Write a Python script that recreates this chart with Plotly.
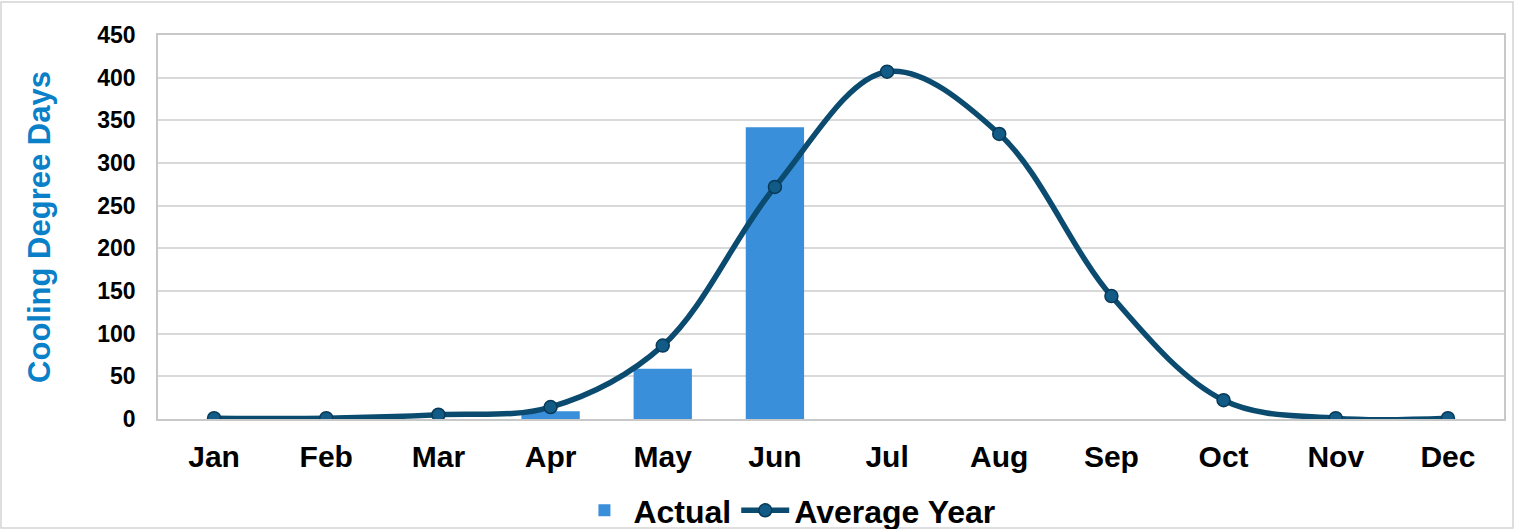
import plotly.graph_objects as go

months = ["Jan", "Feb", "Mar", "Apr", "May", "Jun", "Jul", "Aug", "Sep", "Oct", "Nov", "Dec"]
actual = [0, 0, 0, 9, 59, 342, None, None, None, None, None, None]
average_year = [1, 1, 5, 14, 86, 272, 407, 334, 144, 22, 1, 1]
y_ticks = [0, 50, 100, 150, 200, 250, 300, 350, 400, 450]

FONT = "Liberation Sans, Arial, sans-serif"

fig = go.Figure()

fig.add_trace(go.Bar(
    x=months, y=actual, name="Actual",
    width=0.52,
    marker=dict(color="#3a8fda", line=dict(width=0)),
))

fig.add_trace(go.Scatter(
    x=months, y=average_year, name="Average Year",
    mode="lines+markers",
    line=dict(color="#0a4b6f", width=5.5, shape="spline", smoothing=1.0),
    marker=dict(size=13, color="#115b86", line=dict(color="#083a58", width=1.5)),
))

# light frame around the whole chart
L, R, T, B = 158, 13, 35, 110
pw, ph = 1517 - L - R, 529 - T - B
fig.add_shape(
    type="rect", xref="paper", yref="paper",
    x0=(1 - L) / pw, x1=(1513 - L) / pw,
    y0=(419 - 528) / ph, y1=(419 - 2) / ph,
    line=dict(color="#d4d4d4", width=1.5), layer="below",
)

fig.update_layout(
    width=1517, height=529,
    margin=dict(l=L, r=R, t=T, b=B, autoexpand=False),
    paper_bgcolor="white", plot_bgcolor="white",
    font=dict(family=FONT, color="black"),
    showlegend=True,
    legend=dict(
        orientation="h", x=0.468, xanchor="center",
        yref="container", y=0.035, yanchor="middle",
        bgcolor="rgba(0,0,0,0)",
        font=dict(size=32, family=FONT, color="black", weight="bold"),
        itemwidth=48, traceorder="normal",
    ),
)

fig.update_xaxes(
    categoryorder="array", categoryarray=months, range=[-0.5, 11.5],
    showgrid=False, showline=True, linecolor="#c8c8c8", linewidth=1.5, mirror=True,
    ticks="outside", ticklen=10, tickcolor="rgba(0,0,0,0)",
    tickfont=dict(size=30, family=FONT, color="black", weight="bold"),
)

fig.update_yaxes(
    range=[0, 450], tickvals=y_ticks,
    showgrid=True, gridcolor="#d9d9d9", gridwidth=1.5,
    showline=True, linecolor="#c8c8c8", linewidth=1.5, mirror=True,
    zeroline=False, automargin=False,
    ticks="outside", ticklen=16, tickcolor="rgba(0,0,0,0)",
    tickfont=dict(size=23, family=FONT, color="black", weight="bold"),
    title=dict(text="Cooling Degree Days", standoff=37,
               font=dict(size=31, family=FONT, color="#0a80c8", weight="bold")),
)

fig.write_html("out.html")
